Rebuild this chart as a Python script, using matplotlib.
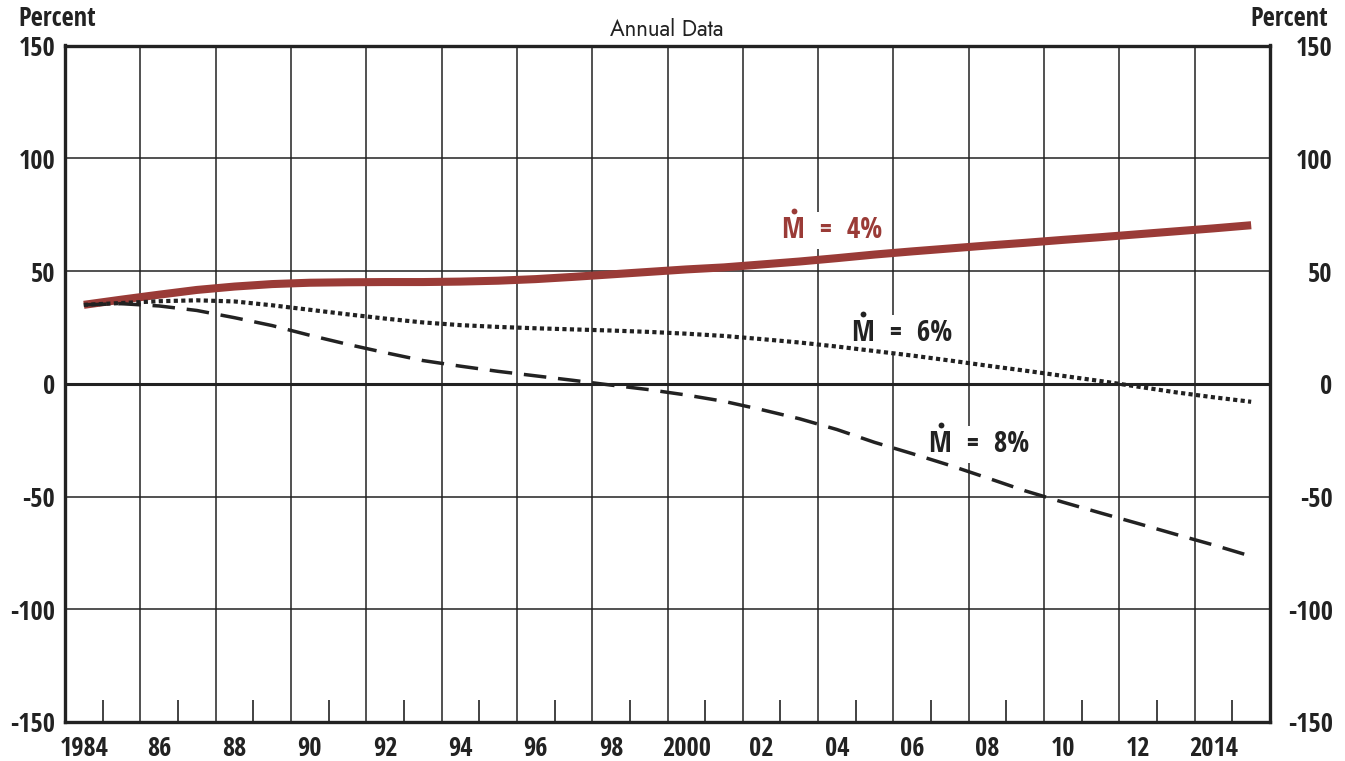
import matplotlib
matplotlib.use("Agg")
import matplotlib.pyplot as plt
import matplotlib.transforms as mtransforms
from matplotlib.font_manager import FontProperties
from matplotlib.textpath import TextPath
import numpy as np

# ---- data ----
years = list(range(1984, 2016))
m4 = [35.0, 37.3, 39.5, 41.6, 43.1, 44.2, 44.8, 45.0, 45.1, 45.1, 45.3, 45.7,
      46.4, 47.4, 48.5, 49.6, 50.7, 51.6, 52.9, 54.2, 55.7, 57.3, 58.7, 60.0,
      61.3, 62.5, 63.8, 65.0, 66.3, 67.6, 68.9, 70.3]
m6 = [35.0, 35.8, 36.6, 37.0, 36.5, 34.8, 32.8, 30.8, 28.9, 27.2, 26.0, 25.2,
      24.6, 24.1, 23.6, 23.0, 22.2, 21.2, 19.8, 18.3, 16.5, 14.5, 12.5, 10.3,
      8.0, 5.8, 3.5, 1.2, -1.3, -3.8, -6.0, -8.0]
m8 = [35.0, 35.5, 34.5, 32.5, 29.3, 25.8, 21.5, 17.5, 13.8, 10.3, 7.8, 5.5,
      3.5, 1.5, -0.6, -2.6, -5.0, -7.8, -11.5, -15.5, -20.3, -26.0, -31.0, -36.2,
      -41.8, -47.5, -52.5, -57.3, -62.0, -66.8, -71.5, -76.5]
label_years = list(range(1984, 2015, 2))
xtick_labels = ["1984", "86", "88", "90", "92", "94", "96", "98", "2000",
                "02", "04", "06", "08", "10", "12", "2014"]
yticks = [-150, -100, -50, 0, 50, 100, 150]
series_labels = ["M  =  4%", "M  =  6%", "M  =  8%"]   # M carries a dot above (M-dot)
label_pos = [(2003.05, 64.6), (2004.9, 18.8), (2006.95, -30.3)]

BOLD = ["Open Sans Condensed", "IBM Plex Sans Condensed", "DejaVu Sans"]
GEO = ["Jost", "Futura", "Questrial", "Didact Gothic", "Century Gothic", "DejaVu Sans"]
RED = "#9a3b37"
INK = "#222222"

fig = plt.figure(figsize=(13.45, 7.61), dpi=100)
ax = fig.add_axes([65/1345, 39/761, 1205/1345, 676.5/761])

x = np.array(years) + 0.5
ax.plot(x, m4, color=RED, lw=5.8, solid_capstyle="butt", zorder=4)
ax.plot(x, m6, color=INK, lw=3.0, linestyle=(0, (1.0, 0.8)), dash_capstyle="butt", zorder=4)
ax.plot(x, m8, color=INK, lw=2.5, linestyle=(0, (6.5, 3.4)), zorder=4)

ax.set_xlim(1984, 2016)
ax.set_ylim(-150, 150)

# vertical gridlines at even years, short ticks at odd years
ax.set_xticks(range(1986, 2016, 2))
ax.set_xticklabels([])
ax.tick_params(axis="x", which="major", length=0)
ax.set_xticks(range(1985, 2016, 2), minor=True)
ax.tick_params(axis="x", which="minor", direction="in", length=16, width=1.2, color=INK)
ax.grid(True, axis="x", which="major", color=INK, lw=1.1)

ax.set_yticks(yticks)
ax.grid(True, axis="y", color=INK, lw=1.1)
ax.axhline(0, color=INK, lw=2.2, zorder=3)
ax.tick_params(axis="y", which="both", length=0, labelleft=True, labelright=True,
               left=False, right=False, pad=7)
ax.set_yticklabels([str(v) for v in yticks])
off = mtransforms.ScaledTranslation(53/100, 0, fig.dpi_scale_trans)
for t in ax.yaxis.get_major_ticks():
    for lab in (t.label1, t.label2):
        lab.set_family(BOLD); lab.set_weight("bold"); lab.set_fontsize(19); lab.set_color(INK)
    t.label2.set_horizontalalignment("right")
    t.label2.set_transform(t.label2.get_transform() + off)

sec = ax.secondary_xaxis("bottom")
sec.set_xticks([y + 0.5 for y in label_years])
sec.set_xticklabels(xtick_labels)
sec.tick_params(length=0, pad=9)
sec.spines["bottom"].set_visible(False)
for lab in sec.get_xticklabels():
    lab.set_family(BOLD); lab.set_weight("bold"); lab.set_fontsize(19); lab.set_color(INK)

for s in ax.spines.values():
    s.set_linewidth(2.4)
    s.set_color(INK)

# labels
fig.text(18/1345, 1 - 19/761, "Percent", family=BOLD, weight="bold", fontsize=19,
         color=INK, ha="left", va="center")
fig.text(1328/1345, 1 - 19/761, "Percent", family=BOLD, weight="bold", fontsize=19,
         color=INK, ha="right", va="center")
fig.text(667/1345, 1 - 29/761, "Annual Data", family=GEO, weight="semibold", fontsize=16,
         color=INK, ha="center", va="center")

# series labels with a dot over the M
LFS = 21
fp = FontProperties(family=BOLD, weight="bold", size=LFS)
mext = TextPath((0, 0), "M", prop=fp).get_extents()
dot_dx = (mext.x0 + mext.width / 2) / 72.0
dot_dy = (mext.y1 + 4.5) / 72.0
bb = dict(facecolor="white", edgecolor="none", pad=3)
for (lx, ly), txt, col in zip(label_pos, series_labels, [RED, INK, INK]):
    ax.text(lx, ly, txt, fontproperties=fp, color=col, ha="left", va="baseline",
            bbox=bb, zorder=3.6)
    tr = ax.transData + mtransforms.ScaledTranslation(dot_dx, dot_dy, fig.dpi_scale_trans)
    ax.plot([lx], [ly], marker="o", ms=4.2, color=col, mec="none", transform=tr,
            zorder=6, clip_on=False)

fig.savefig("out.png", dpi=100)
